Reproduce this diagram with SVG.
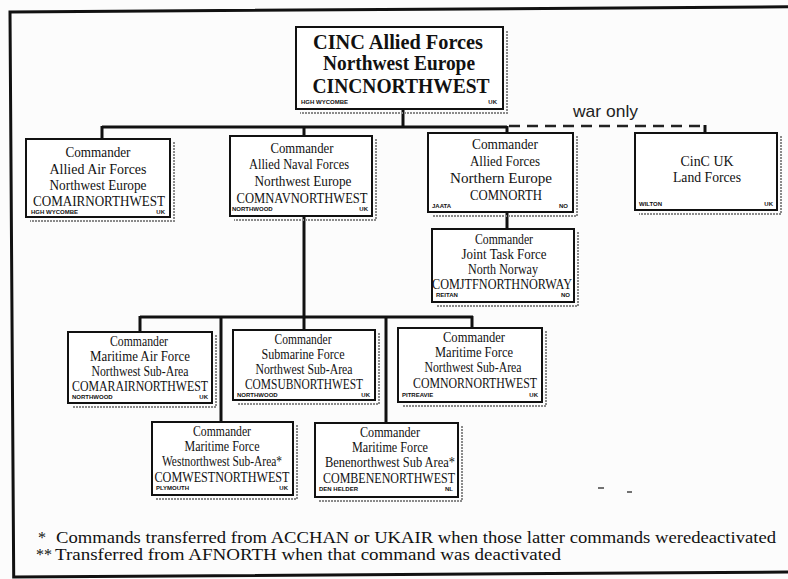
<svg xmlns="http://www.w3.org/2000/svg" width="788" height="579" viewBox="0 0 788 579">
<style>
.bx{fill:#fff;stroke:#111;stroke-width:2}
.sh{fill:none;stroke:#8a8a8a;stroke-width:2;stroke-dasharray:2 1}
.t{font-family:"Liberation Serif","Times New Roman",serif;font-size:14px;fill:#111;text-anchor:middle}
.c{font-family:"Liberation Serif","Times New Roman",serif;font-size:15px;fill:#111;text-anchor:middle}
.h{font-family:"Liberation Serif","Times New Roman",serif;font-size:20px;font-weight:bold;fill:#111;text-anchor:middle}
.s{font-family:"Liberation Sans",Arial,sans-serif;font-size:6px;font-weight:bold;fill:#111}
.se{font-family:"Liberation Sans",Arial,sans-serif;font-size:6px;font-weight:bold;fill:#111;text-anchor:end}
.w{font-family:"Liberation Sans",Arial,sans-serif;font-size:17px;fill:#222}
.f{font-family:"Liberation Serif","Times New Roman",serif;font-size:16px;fill:#111}
.ln{fill:none;stroke:#111;stroke-width:3}
.dl{fill:none;stroke:#222;stroke-width:2.5;stroke-dasharray:11 7}
</style>
<rect width="788" height="579" fill="#fcfcfc"/>
<path d="M788,6.8 L10,12 L13.7,577 L788,572" fill="none" stroke="#111" stroke-width="3"/>

<g id="connectors">
<path class="ln" d="M403,109 V127 M102,127 H507 M102,126 V139 M304,126 V136 M304,216 V330 M507,126 V133 M507,212 V229"/>
<path class="dl" d="M509,126 H705"/>
<path class="ln" d="M705,125 V133"/>
<path class="ln" d="M140,317 H473 M140,316 V332 M221,316 V422 M386,316 V423 M472,316 V328"/>
<text class="w" x="573" y="117" textLength="65" lengthAdjust="spacingAndGlyphs">war only</text>
</g>

<g id="cincnorthwest">
<path class="sh" d="M507,31 V113 H300"/>
<rect class="bx" x="296" y="27" width="207" height="82" stroke-width="2.5"/>
<text class="h" x="398" y="49" textLength="170" lengthAdjust="spacingAndGlyphs">CINC Allied Forces</text>
<text class="h" x="399" y="70" textLength="152" lengthAdjust="spacingAndGlyphs">Northwest Europe</text>
<text class="h" x="401" y="93" textLength="177" lengthAdjust="spacingAndGlyphs">CINCNORTHWEST</text>
<text class="s" x="301" y="104">HGH WYCOMBE</text>
<text class="se" x="497" y="104">UK</text>
</g>

<g id="comairnorthwest">
<path class="sh" d="M174,142 V221 H30"/>
<rect class="bx" x="26" y="139" width="144" height="78"/>
<text class="t" x="98" y="157" textLength="65" lengthAdjust="spacingAndGlyphs">Commander</text>
<text class="t" x="98" y="174" textLength="97" lengthAdjust="spacingAndGlyphs">Allied Air Forces</text>
<text class="t" x="98" y="190" textLength="97" lengthAdjust="spacingAndGlyphs">Northwest Europe</text>
<text class="c" x="99" y="206" textLength="132" lengthAdjust="spacingAndGlyphs">COMAIRNORTHWEST</text>
<text class="s" x="31" y="214">HGH WYCOMBE</text>
<text class="se" x="165" y="214">UK</text>
</g>

<g id="comnavnorthwest">
<path class="sh" d="M376,139 V220 H234"/>
<rect class="bx" x="230" y="136" width="142" height="80"/>
<text class="t" x="302" y="153" textLength="63" lengthAdjust="spacingAndGlyphs">Commander</text>
<text class="t" x="299" y="169" textLength="100" lengthAdjust="spacingAndGlyphs">Allied Naval Forces</text>
<text class="t" x="303" y="186" textLength="97" lengthAdjust="spacingAndGlyphs">Northwest Europe</text>
<text class="c" x="302" y="203" textLength="131" lengthAdjust="spacingAndGlyphs">COMNAVNORTHWEST</text>
<text class="s" x="232" y="211">NORTHWOOD</text>
<text class="se" x="368" y="211">UK</text>
</g>

<g id="comnorth">
<path class="sh" d="M577,136 V216 H432"/>
<rect class="bx" x="428" y="133" width="145" height="79"/>
<text class="t" x="505" y="149" textLength="66" lengthAdjust="spacingAndGlyphs">Commander</text>
<text class="t" x="505" y="166" textLength="70" lengthAdjust="spacingAndGlyphs">Allied Forces</text>
<text class="t" x="501" y="183" textLength="102" lengthAdjust="spacingAndGlyphs">Northern Europe</text>
<text class="c" x="506" y="200" textLength="72" lengthAdjust="spacingAndGlyphs">COMNORTH</text>
<text class="s" x="432" y="208">JAATA</text>
<text class="se" x="568" y="208">NO</text>
</g>

<g id="cincukland">
<path class="sh" d="M781,136 V214 H639"/>
<rect class="bx" x="635" y="133" width="142" height="77"/>
<text class="t" x="707" y="166" textLength="53" lengthAdjust="spacingAndGlyphs">CinC UK</text>
<text class="t" x="707" y="182" textLength="68" lengthAdjust="spacingAndGlyphs">Land Forces</text>
<text class="s" x="639" y="206">WILTON</text>
<text class="se" x="773" y="206">UK</text>
</g>

<g id="comjtfnorthnorway">
<path class="sh" d="M578,232 V306 H436"/>
<rect class="bx" x="432" y="229" width="142" height="73"/>
<text class="t" x="504" y="244" textLength="58" lengthAdjust="spacingAndGlyphs">Commander</text>
<text class="t" x="504" y="259" textLength="85" lengthAdjust="spacingAndGlyphs">Joint Task Force</text>
<text class="t" x="503" y="274" textLength="70" lengthAdjust="spacingAndGlyphs">North Norway</text>
<text class="c" x="502" y="289" textLength="140" lengthAdjust="spacingAndGlyphs">COMJTFNORTHNORWAY</text>
<text class="s" x="436" y="297">REITAN</text>
<text class="se" x="570" y="297">NO</text>
</g>

<g id="comarairnorthwest">
<path class="sh" d="M216,335 V407 H72"/>
<rect class="bx" x="68" y="332" width="144" height="71"/>
<text class="t" x="139" y="346" textLength="58" lengthAdjust="spacingAndGlyphs">Commander</text>
<text class="t" x="140" y="361" textLength="100" lengthAdjust="spacingAndGlyphs">Maritime Air Force</text>
<text class="t" x="140" y="376" textLength="97" lengthAdjust="spacingAndGlyphs">Northwest Sub-Area</text>
<text class="c" x="140" y="391" textLength="136" lengthAdjust="spacingAndGlyphs">COMARAIRNORTHWEST</text>
<text class="s" x="72" y="399">NORTHWOOD</text>
<text class="se" x="208" y="399">UK</text>
</g>

<g id="comsubnorthwest">
<path class="sh" d="M379,333 V404 H237"/>
<rect class="bx" x="233" y="330" width="142" height="70"/>
<text class="t" x="303" y="344" textLength="57" lengthAdjust="spacingAndGlyphs">Commander</text>
<text class="t" x="303" y="359" textLength="83" lengthAdjust="spacingAndGlyphs">Submarine Force</text>
<text class="t" x="304" y="374" textLength="97" lengthAdjust="spacingAndGlyphs">Northwest Sub-Area</text>
<text class="c" x="304" y="389" textLength="118" lengthAdjust="spacingAndGlyphs">COMSUBNORTHWEST</text>
<text class="s" x="237" y="397">NORTHWOOD</text>
<text class="se" x="370" y="397">UK</text>
</g>

<g id="comnornorthwest">
<path class="sh" d="M546,331 V406 H402"/>
<rect class="bx" x="398" y="328" width="144" height="74"/>
<text class="t" x="474" y="342" textLength="62" lengthAdjust="spacingAndGlyphs">Commander</text>
<text class="t" x="474" y="357" textLength="78" lengthAdjust="spacingAndGlyphs">Maritime Force</text>
<text class="t" x="473" y="372" textLength="97" lengthAdjust="spacingAndGlyphs">Northwest Sub-Area</text>
<text class="c" x="475" y="388" textLength="124" lengthAdjust="spacingAndGlyphs">COMNORNORTHWEST</text>
<text class="s" x="402" y="397">PITREAVIE</text>
<text class="se" x="538" y="397">UK</text>
</g>

<g id="comwestnorthwest">
<path class="sh" d="M297,425 V499 H156"/>
<rect class="bx" x="152" y="422" width="141" height="73"/>
<text class="t" x="222" y="436" textLength="58" lengthAdjust="spacingAndGlyphs">Commander</text>
<text class="t" x="222" y="451" textLength="75" lengthAdjust="spacingAndGlyphs">Maritime Force</text>
<text class="t" x="222" y="466" textLength="120" lengthAdjust="spacingAndGlyphs">Westnorthwest Sub-Area*</text>
<text class="c" x="222" y="482" textLength="135" lengthAdjust="spacingAndGlyphs">COMWESTNORTHWEST</text>
<text class="s" x="156" y="490">PLYMOUTH</text>
<text class="se" x="288" y="490">UK</text>
</g>

<g id="combenenorthwest">
<path class="sh" d="M462,426 V501 H319"/>
<rect class="bx" x="315" y="423" width="143" height="74"/>
<text class="t" x="390" y="437" textLength="60" lengthAdjust="spacingAndGlyphs">Commander</text>
<text class="t" x="390" y="452" textLength="76" lengthAdjust="spacingAndGlyphs">Maritime Force</text>
<text class="t" x="390" y="467" textLength="130" lengthAdjust="spacingAndGlyphs">Benenorthwest Sub Area*</text>
<text class="c" x="389" y="483" textLength="132" lengthAdjust="spacingAndGlyphs">COMBENENORTHWEST</text>
<text class="s" x="319" y="491">DEN HELDER</text>
<text class="se" x="453" y="491">NL</text>
</g>

<path d="M598,488 H604 M627,492 H632" stroke="#444" stroke-width="1.5"/>

<g id="footnotes">
<text class="f" x="38" y="543">*</text>
<text class="f" x="56" y="543" textLength="720" lengthAdjust="spacingAndGlyphs">Commands transferred from ACCHAN or UKAIR when those latter commands weredeactivated</text>
<text class="f" x="36" y="560">**</text>
<text class="f" x="55" y="560" textLength="506" lengthAdjust="spacingAndGlyphs">Transferred from AFNORTH when that command was deactivated</text>
</g>
</svg>
